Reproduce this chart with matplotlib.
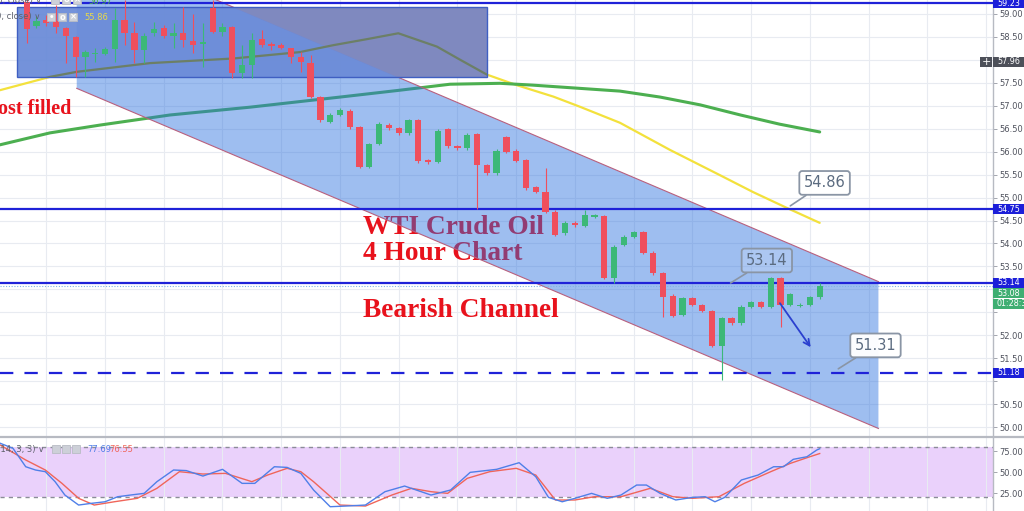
import numpy as np
import matplotlib
matplotlib.use("Agg")
import matplotlib.pyplot as plt
from matplotlib.patches import Rectangle, Polygon
from matplotlib.lines import Line2D
from matplotlib.transforms import blended_transform_factory

W, H = 1024, 511

# ---------------- data ----------------
opens = [59.26, 58.74, 58.88, 58.85, 58.69, 58.49, 58.07, 58.13, 58.13, 58.23,
         58.88, 58.59, 58.22, 58.58, 58.69, 58.52, 58.59, 58.42, 58.35, 59.12,
         58.61, 58.72, 57.71, 57.89, 58.45, 58.34, 58.33, 58.25, 58.06, 57.94,
         57.20, 56.65, 56.80, 56.89, 56.54, 55.67, 56.17, 56.58, 56.51, 56.40,
         56.69, 55.82, 55.78, 56.49, 56.12, 56.07, 56.38, 55.71, 55.53, 56.31,
         56.02, 55.82, 55.22, 55.12, 54.69, 54.22, 54.45, 54.38, 54.58, 54.60,
         53.25, 53.97, 54.15, 54.24, 53.80, 53.35, 52.86, 52.44, 52.81, 52.66,
         52.53, 51.77, 52.37, 52.26, 52.62, 52.72, 52.62, 53.24, 52.66, 52.64,
         52.66, 52.83]
closes = [58.67, 58.85, 58.80, 58.71, 58.51, 58.07, 58.18, 58.16, 58.23, 58.88,
          58.59, 58.22, 58.52, 58.67, 58.51, 58.59, 58.43, 58.32, 58.38, 58.61,
          58.72, 57.71, 57.89, 58.43, 58.32, 58.31, 58.27, 58.07, 57.95, 57.20,
          56.69, 56.80, 56.91, 56.54, 55.67, 56.17, 56.60, 56.51, 56.40, 56.68,
          55.80, 55.78, 56.46, 56.12, 56.07, 56.36, 55.71, 55.53, 56.02, 56.00,
          55.80, 55.20, 55.12, 54.69, 54.19, 54.45, 54.40, 54.61, 54.61, 53.25,
          53.93, 54.15, 54.24, 53.80, 53.35, 52.84, 52.42, 52.81, 52.66, 52.53,
          51.77, 52.37, 52.26, 52.62, 52.72, 52.62, 53.24, 52.66, 52.89, 52.67,
          52.83, 53.08]
highs = [59.40, 58.95, 58.98, 59.20, 58.72, 58.52, 58.22, 58.25, 58.28, 59.12,
         59.30, 58.83, 58.58, 58.83, 58.76, 58.80, 59.16, 59.01, 58.80, 59.30,
         58.80, 58.74, 58.32, 58.58, 58.65, 58.40, 58.36, 58.27, 58.18, 58.11,
         57.22, 56.84, 56.95, 56.92, 56.56, 56.20, 56.64, 56.62, 56.54, 56.72,
         56.72, 55.85, 56.50, 56.52, 56.15, 56.40, 56.41, 55.74, 56.05, 56.34,
         56.05, 55.85, 55.25, 55.64, 54.72, 54.48, 54.48, 54.73, 54.65, 54.63,
         53.96, 54.18, 54.27, 54.27, 53.83, 53.38, 52.89, 52.84, 52.84, 52.69,
         52.56, 52.40, 52.40, 52.65, 52.75, 52.75, 53.27, 53.27, 52.92, 52.70,
         52.86, 53.14]
lows = [58.36, 58.70, 58.74, 58.58, 57.93, 57.63, 57.63, 57.96, 58.10, 57.96,
        58.32, 57.93, 57.93, 58.51, 58.48, 58.25, 58.29, 58.14, 57.85, 58.58,
        58.51, 57.60, 57.60, 57.60, 58.29, 58.22, 58.24, 57.93, 57.74, 57.18,
        56.65, 56.62, 56.78, 56.50, 55.64, 55.64, 56.15, 56.48, 56.37, 56.37,
        55.76, 55.74, 55.75, 56.09, 56.04, 56.04, 54.75, 55.50, 55.50, 55.97,
        55.77, 55.17, 55.09, 54.66, 54.16, 54.19, 54.37, 54.35, 54.55, 53.22,
        53.14, 53.94, 54.12, 53.77, 53.32, 52.40, 52.39, 52.41, 52.63, 52.50,
        51.74, 51.03, 52.23, 52.23, 52.59, 52.59, 52.59, 52.18, 52.63, 52.61,
        52.63, 52.80]

# moving averages (bar position, price)
ma_fast_x = [-2.73, 2.38, 5.11, 12.6, 21.07, 27.9, 31.3, 34.7, 37.96, 41.9,
             44.3, 47.0, 50.05, 53.8, 56.5, 60.6, 65.7, 70.8, 74.2, 77.7, 81.0]
ma_fast_y = [57.34, 57.63, 57.74, 57.93, 58.03, 58.17, 58.32, 58.45, 58.58, 58.29,
             58.00, 57.68, 57.45, 57.20, 56.98, 56.63, 56.04, 55.49, 55.12, 54.77, 54.45]
ma_slow_x = [-2.73, 2.38, 7.49, 14.64, 22.81, 32.0, 38.13, 43.24, 48.35, 51.7,
             56.5, 60.6, 64.7, 68.8, 72.9, 76.9, 81.0]
ma_slow_y = [56.15, 56.41, 56.58, 56.80, 56.97, 57.19, 57.34, 57.47, 57.49, 57.45,
             57.38, 57.32, 57.19, 57.02, 56.80, 56.60, 56.43]

# stochastic (bar position, value)
stoch_k_x = [-2.7, -1.4, -0.1, 0.9, 1.9, 2.9, 3.9, 5.3, 6.6, 8.0, 9.3, 10.6, 12.0,
             13.3, 15.0, 16.3, 18.0, 20.0, 22.0, 23.3, 25.3, 26.6, 28.0, 29.3, 31.0,
             32.6, 34.6, 36.6, 38.6, 41.3, 43.3, 45.3, 48.0, 50.3, 52.0, 53.3, 54.7,
             56.0, 57.7, 59.3, 60.7, 62.3, 63.3, 64.7, 66.3, 68.0, 69.3, 70.3, 71.3,
             73.0, 74.7, 76.3, 77.3, 78.3, 79.7, 80.7, 81.0]
stoch_k_v = [84.2, 78.2, 56.3, 52.4, 50.4, 38.5, 22.6, 10.7, 12.7, 14.6, 20.6, 22.6, 24.6,
             38.5, 52.4, 51.7, 45.2, 53.2, 36.5, 36.5, 56.3, 55.5, 48.4, 28.6, 8.7,
             9.5, 10.7, 26.6, 33.3, 22.6, 28.6, 49.6, 53.2, 61.1, 44.4, 19.8, 14.6,
             18.7, 24.6, 18.7, 22.6, 34.5, 34.5, 24.6, 16.7, 19.8, 20.6, 14.6, 19.8,
             40.5, 46.4, 56.3, 56.3, 65.1, 68.2, 76.2, 77.7]
stoch_d_x = [-2.7, -0.1, 1.9, 3.6, 5.3, 6.9, 8.95, 11.3, 13.3, 15.6, 18.0, 20.3, 23.0,
             24.6, 26.6, 28.0, 29.3, 32.0, 34.6, 37.3, 39.3, 41.3, 43.0, 45.0, 47.3,
             50.0, 52.0, 54.0, 56.0, 58.0, 60.7, 63.7, 66.0, 68.0, 70.7, 73.3, 76.0,
             78.0, 80.0, 81.0]
stoch_d_v = [82.1, 64.3, 52.4, 36.5, 18.7, 10.7, 14.6, 18.7, 30.6, 50.4, 47.6, 48.4, 38.5,
             46.4, 54.4, 50.4, 38.5, 10.7, 9.5, 22.6, 30.6, 26.6, 24.6, 42.5, 50.4,
             54.4, 46.4, 16.7, 16.7, 20.6, 20.6, 30.6, 20.6, 18.7, 20.6, 36.5, 50.4,
             60.3, 68.2, 72.0]

level_lines = [59.23, 54.75, 53.14]
support_level = 51.18
last_price = 53.08
crosshair_price = 57.96

channel_x = [5.11, 87.0]
channel_upper = [60.60, 53.17]
channel_lower = [57.38, 49.97]

zone_x = [-0.99, 47.0]
zone_price = [57.63, 59.15]

callout_texts = ["54.86", "53.14", "51.31"]
callout_anchor = [(78.0, 54.82), (71.9, 53.14), (82.9, 51.27)]
callout_box = [(81.5, 55.32), (75.6, 53.63), (86.7, 51.78)]
arrow_from = (76.94, 52.70)
arrow_to = (80.08, 51.74)

price_ticks = np.arange(50.0, 59.01, 0.5)
stoch_ticks = [25, 50, 75]
stoch_bands = [20, 80]

# ---------------- style ----------------
RED = "#ef4f5d"
GREEN = "#3cb878"
LINE_BLUE = "#1f22d8"
GRID = "#e8ebf1"
TEXT_RED = "#e8121c"

x0_px, bar_px = 26.7, 9.79
axis_px = 993
xlim = ((0 - x0_px) / bar_px, (axis_px - x0_px) / bar_px)
ylim = (49.806, 59.305)
px_per_unit = 436 / (ylim[1] - ylim[0])

fig = plt.figure(figsize=(W / 100, H / 100), dpi=100)
ax = fig.add_axes([0, (H - 436) / H, axis_px / W, 436 / H])
sax = fig.add_axes([0, 0, axis_px / W, 73 / H])

ax.set_xlim(*xlim)
ax.set_ylim(*ylim)
sax.set_xlim(*xlim)
sax.set_ylim(3.6, 90.5)

grid_x = np.arange(2, 99, 6)
for a in (ax, sax):
    a.set_xticks(grid_x)
    a.tick_params(axis="x", length=0, labelbottom=False)
    a.grid(True, axis="x", color=GRID, lw=0.8, zorder=0)
    for s in ("top", "left", "bottom"):
        a.spines[s].set_visible(False)
    a.spines["right"].set_color("#b7bac2")
    a.spines["right"].set_linewidth(1.0)
    a.yaxis.tick_right()
    a.tick_params(axis="y", length=3, width=0.7, colors="#a3a6ae",
                  labelcolor="#50535e", labelsize=6, pad=1.5)
    a.set_axisbelow(True)
    a.patch.set_facecolor("white")

# tag centres on the price scale (hide tick labels they would cover)
hstep = 10.5 / px_per_unit
tag_specs = [
    (level_lines[0], f"{level_lines[0]:.2f}", "#1c1fd9"),
    (level_lines[1], f"{level_lines[1]:.2f}", "#1c1fd9"),
    (level_lines[2], f"{level_lines[2]:.2f}", "#1c1fd9"),
    (level_lines[2] - hstep, f"{last_price:.2f}", "#3fae72"),
    (level_lines[2] - 2 * hstep, "01:28:37", "#3fae72"),
    (support_level, f"{support_level:.2f}", "#1c1fd9"),
    (crosshair_price, f"{crosshair_price:.2f}", "#4d5059"),
]
tick_labels = []
for v in price_ticks:
    near = any(abs(v - t[0]) * px_per_unit < 9 for t in tag_specs)
    tick_labels.append("" if near else f"{v:.2f}")
ax.set_yticks(price_ticks)
ax.set_yticklabels(tick_labels)
ax.grid(True, axis="y", color=GRID, lw=0.8, zorder=0)
sax.set_yticks(stoch_ticks)
sax.set_yticklabels([f"{v:.2f}" for v in stoch_ticks])

# moving averages (under the drawings)
ax.plot(ma_fast_x, ma_fast_y, color="#f3e13c", lw=1.6, zorder=1, solid_capstyle="round")
ax.plot(ma_slow_x, ma_slow_y, color="#4caf50", lw=2.2, zorder=1, solid_capstyle="round")

# big red captions (under channel overlay)
def ftxt(x, y, s, **kw):
    return ax.text(x / W, 1 - y / H, s, transform=fig.transFigure, **kw)

cap = dict(family="Liberation Serif", fontweight="bold",
           color=TEXT_RED, va="baseline", zorder=1.5)
ftxt(363, 233.5, "WTI Crude Oil", ha="left", fontsize=19.7, **cap)
ftxt(363, 260, "4 Hour Chart", ha="left", fontsize=19.7, **cap)
ftxt(363, 316.5, "Bearish Channel", ha="left", fontsize=19.7, **cap)
ftxt(71, 113.5, "Almost filled", ha="right", fontsize=14.5, **cap)

# channel
chan = Polygon([(channel_x[0], channel_lower[0]), (channel_x[1], channel_lower[1]),
                (channel_x[1], channel_upper[1]), (channel_x[0], channel_upper[0])],
               closed=True, facecolor="#2970de", alpha=0.45, edgecolor="none", zorder=2)
ax.add_patch(chan)
ax.plot(channel_x, channel_upper, color="#b8607e", lw=0.8, zorder=2.05)
ax.plot(channel_x, channel_lower, color="#b8607e", lw=0.8, zorder=2.05)

# rectangle zone
rect = Rectangle((zone_x[0], zone_price[0]), zone_x[1] - zone_x[0], zone_price[1] - zone_price[0],
                 facecolor="#6c8cd8", edgecolor="none", alpha=0.95, zorder=2.2)
ax.add_patch(rect)
slope = (channel_upper[1] - channel_upper[0]) / (channel_x[1] - channel_x[0])
ux = [zone_x[0], zone_x[1]]
uy = [channel_upper[0] + slope * (v - channel_x[0]) for v in ux]
gray = Polygon([(ux[0], uy[0]), (ux[1], uy[1]), (ux[1], zone_price[1] + 5), (ux[0], zone_price[1] + 5)],
               closed=True, facecolor="#8089bf", edgecolor="none", alpha=0.97, zorder=2.25)
ax.add_patch(gray)
gray.set_clip_path(rect)
rect_edge = Rectangle((zone_x[0], zone_price[0]), zone_x[1] - zone_x[0], zone_price[1] - zone_price[0],
                      facecolor="none", edgecolor="#3f5fc2", lw=1.0, zorder=2.3)
ax.add_patch(rect_edge)
olive, = ax.plot(ma_fast_x, ma_fast_y, color="#6c7f66", lw=1.6, zorder=2.4)
olive.set_clip_path(rect)

# horizontal levels
for lv in level_lines:
    ax.axhline(lv, color=LINE_BLUE, lw=1.6, zorder=3.5)
ax.axhline(support_level, color=LINE_BLUE, lw=1.6, ls=(0, (6, 5)), zorder=3.5)
ax.axhline(last_price, color="#7fb2e6", lw=0.8, ls=(0, (1, 1.5)), zorder=3.4)

# candles
bars = np.arange(len(opens))
o = np.array(opens); c = np.array(closes)
up = c >= o
cols = np.where(up, GREEN, RED)
body_lo = np.minimum(o, c)
body_h = np.maximum(np.abs(c - o), 0.03)
ax.vlines(bars, lows, highs, colors=cols, lw=0.8, zorder=4)
ax.bar(bars, body_h, bottom=body_lo, width=0.64, color=cols, linewidth=0, zorder=4.1)

# callouts
for i, (t, xy, xt) in enumerate(zip(callout_texts, callout_anchor, callout_box)):
    fc = (1, 1, 1, 0.15) if i == 1 else (1, 1, 1, 0.97)
    ax.annotate(t, xy=xy, xytext=xt, ha="center", va="center", fontsize=10.5,
                color="#5b6b80", zorder=5,
                bbox=dict(boxstyle="round,pad=0.3,rounding_size=0.2", fc=fc,
                          ec="#8a95a5", lw=1.3),
                arrowprops=dict(arrowstyle="-", color="#8a95a5", lw=1.2,
                                shrinkA=0, shrinkB=0))

ax.annotate("", xy=arrow_to, xytext=arrow_from, zorder=5,
            arrowprops=dict(arrowstyle="->", color="#2b40cf", lw=1.3,
                            mutation_scale=11, shrinkA=0, shrinkB=0))

# price axis tags
trans = blended_transform_factory(ax.transAxes, ax.transData)

def tag(center, text, bg, fg="white"):
    h = 10 / px_per_unit
    ax.add_patch(Rectangle((1.0, center - h / 2), 0.04, h, transform=trans,
                           facecolor=bg, edgecolor="none", clip_on=False, zorder=10))
    ax.text(1.004, center, text, transform=trans, color=fg, fontsize=5.8,
            va="center", ha="left", clip_on=False, zorder=11)

for center, text, bg in tag_specs:
    tag(center, text, bg)
hh = 10 / px_per_unit
ax.add_patch(Rectangle((980 / axis_px, crosshair_price - hh / 2), 12 / axis_px, hh,
                       transform=trans, facecolor="#4d5059", edgecolor="none",
                       clip_on=False, zorder=10))
ax.text(986 / axis_px, crosshair_price, "+", transform=trans, color="white",
        fontsize=8, ha="center", va="center", zorder=11, clip_on=False)

# stochastic pane
sax.axhspan(stoch_bands[0], stoch_bands[1], color="#ead1fb", zorder=0.5, lw=0)
for b in stoch_bands:
    sax.axhline(b, color="#8b8c98", lw=1.0, ls=(0, (3, 3)), zorder=1)
sax.plot(stoch_d_x, stoch_d_v, color="#f0655a", lw=1.0, zorder=2)
sax.plot(stoch_k_x, stoch_k_v, color="#4f7fe8", lw=1.0, zorder=2.1)

# pane separator
fig.add_artist(Line2D([0, 1], [1 - 437 / H] * 2, transform=fig.transFigure,
                      color="#b7bac2", lw=1.6))

# legends
def icons(x, y, size=8, gap=3):
    for k, g in enumerate(["\u2022", "o", "\u00d7"]):
        xx = x + k * (size + gap)
        ax.add_patch(Rectangle((xx / W, 1 - (y + size / 2) / H), size / W, size / H,
                               transform=fig.transFigure, facecolor="#cdd0d8",
                               edgecolor="#b9bcc5", lw=0.6, zorder=7, clip_on=False))
        ax.text((xx + size / 2) / W, 1 - y / H, g, transform=fig.transFigure,
                color="white", fontsize=6, ha="center", va="center",
                fontweight="bold", zorder=8)

leg = dict(fontsize=6, va="center", zorder=8)
ftxt(42, 1, "MA (100, close) \u2228", ha="right", color="#5d606b", **leg)
icons(51, 0)
ftxt(88, 1, "56.97", ha="left", color="#4caf50", **leg)
ftxt(40, 17, "MA (50, close) \u2228", ha="right", color="#5d606b", **leg)
icons(47, 17)
ftxt(84, 17, "55.86", ha="left", color="#e8da4a", **leg)

def stxt(x, y, s, **kw):
    return sax.text(x / W, 1 - y / H, s, transform=fig.transFigure, **kw)

stxt(44, 449, "Stoch (14, 3, 3) \u2228", ha="right", color="#5d606b", **leg)
for k in range(3):
    xx = 52 + k * 10
    sax.add_patch(Rectangle((xx / W, 1 - 453 / H), 8 / W, 8 / H, transform=fig.transFigure,
                            facecolor="#cdd0d8", edgecolor="#b9bcc5", lw=0.6, zorder=7))
stxt(87, 449, "77.69", ha="left", color="#4f7fe8", **leg)
stxt(109, 449, "76.55", ha="left", color="#f0655a", **leg)

fig.savefig("out.png", dpi=100)
